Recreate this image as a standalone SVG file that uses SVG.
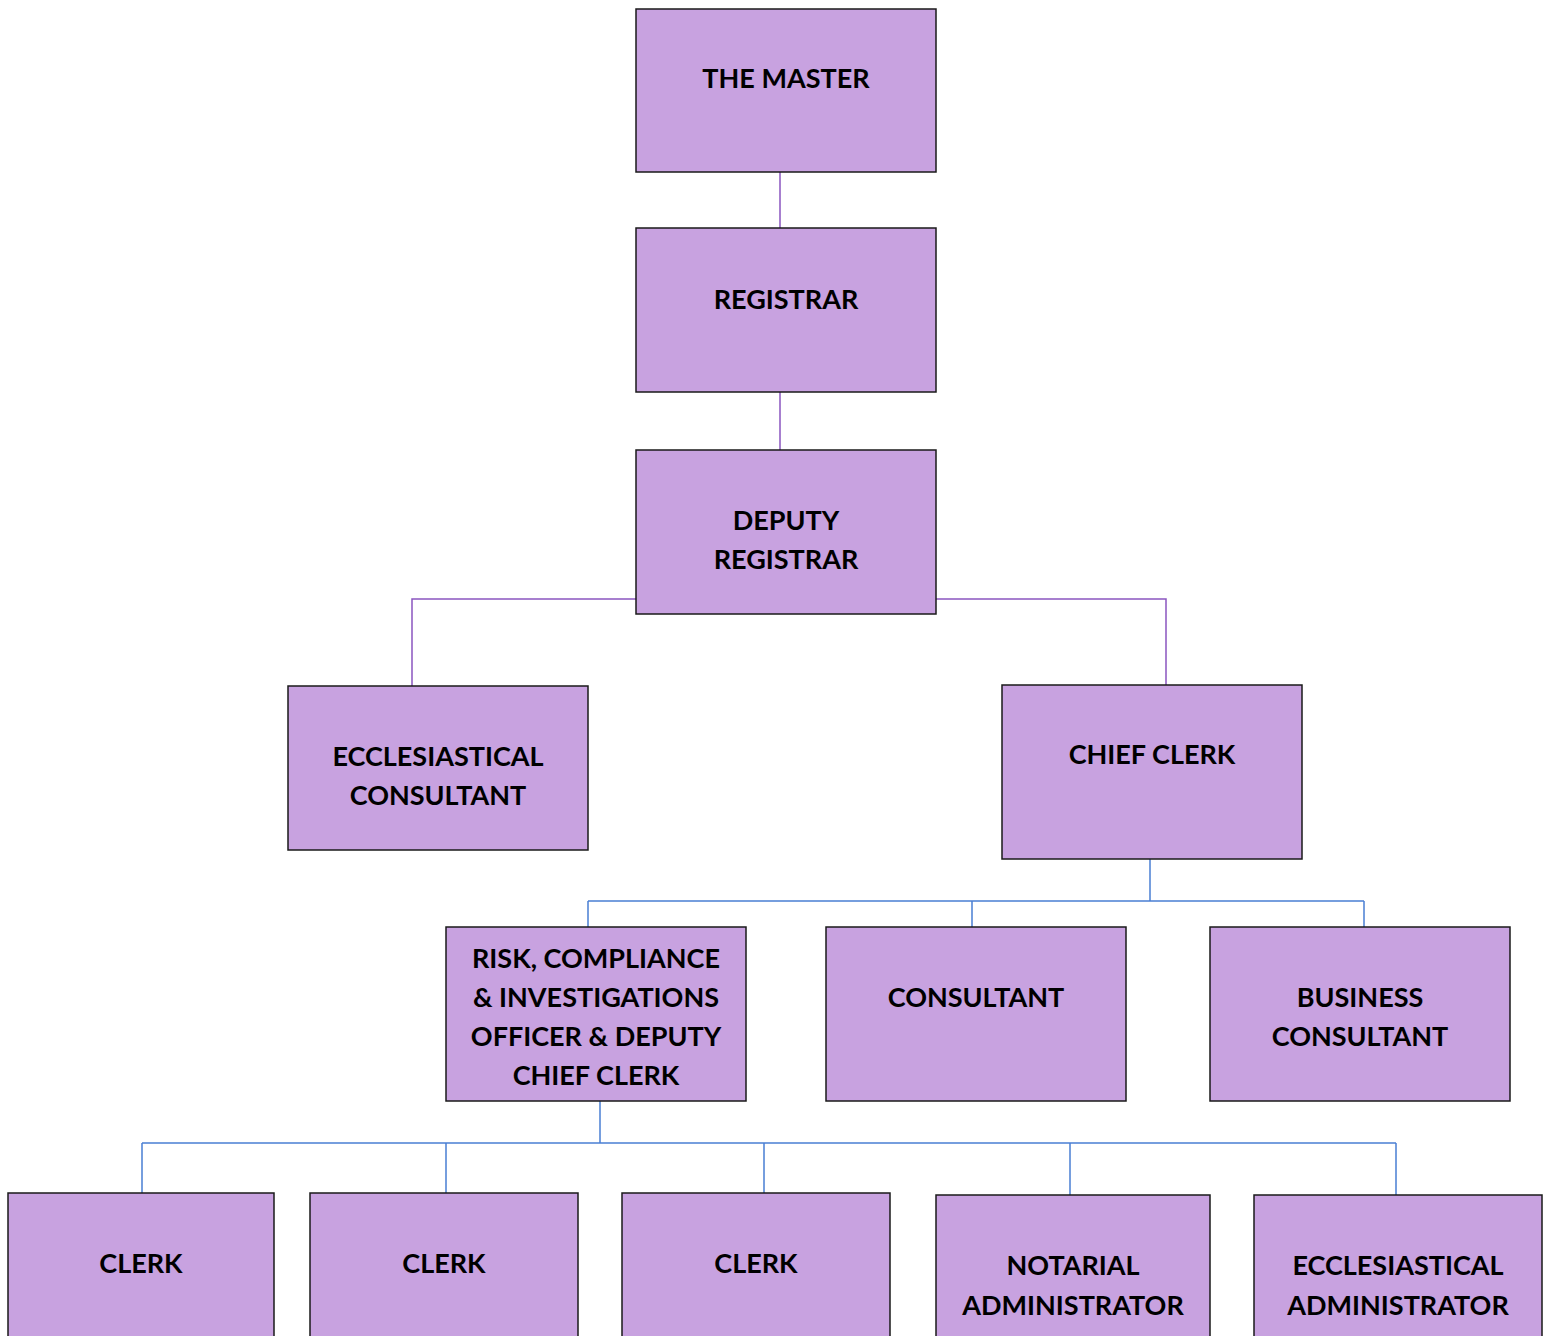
<svg xmlns="http://www.w3.org/2000/svg" width="1543" height="1336" viewBox="0 0 1543 1336">
<style>
.box{fill:#C8A2E0;stroke:#1a1a1a;stroke-width:1.5}
.t{font-family:Lato,"Open Sans","Liberation Sans",sans-serif;font-weight:700;font-size:27px;fill:#000;text-anchor:middle}
.p{stroke:#8A55C0;stroke-width:1.5;fill:none}
.b{stroke:#4A7FD4;stroke-width:1.5;fill:none}
</style>
<rect width="1543" height="1336" fill="#fff"/>
<g id="connectors">
<path class="p" d="M780 172V228M780 392V450M636 599H412V686M936 599H1166V685"/>
<path class="b" d="M1150 859V901M588 901H1364M588 901V927M972 901V927M1364 901V927"/>
<path class="b" d="M600 1101V1143M142 1143H1396M142 1143V1193M446 1143V1193M764 1143V1193M1070 1143V1195M1396 1143V1195"/>
</g>
<g id="master"><rect class="box" x="636" y="9" width="300" height="163"/><text class="t" x="786" y="88">THE MASTER</text></g>
<g id="registrar"><rect class="box" x="636" y="228" width="300" height="164"/><text class="t" x="786" y="309">REGISTRAR</text></g>
<g id="deputy"><rect class="box" x="636" y="450" width="300" height="164"/><text class="t" x="786" y="530">DEPUTY</text><text class="t" x="786" y="569">REGISTRAR</text></g>
<g id="eccl-consultant"><rect class="box" x="288" y="686" width="300" height="164"/><text class="t" x="438" y="766">ECCLESIASTICAL</text><text class="t" x="438" y="805">CONSULTANT</text></g>
<g id="chief-clerk"><rect class="box" x="1002" y="685" width="300" height="174"/><text class="t" x="1152" y="764">CHIEF CLERK</text></g>
<g id="risk"><rect class="box" x="446" y="927" width="300" height="174"/><text class="t" x="596" y="968">RISK, COMPLIANCE</text><text class="t" x="596" y="1007">&amp; INVESTIGATIONS</text><text class="t" x="596" y="1046">OFFICER &amp; DEPUTY</text><text class="t" x="596" y="1085">CHIEF CLERK</text></g>
<g id="consultant"><rect class="box" x="826" y="927" width="300" height="174"/><text class="t" x="976" y="1007">CONSULTANT</text></g>
<g id="business-consultant"><rect class="box" x="1210" y="927" width="300" height="174"/><text class="t" x="1360" y="1007">BUSINESS</text><text class="t" x="1360" y="1046">CONSULTANT</text></g>
<g id="clerk1"><rect class="box" x="8" y="1193" width="266" height="160"/><text class="t" x="141" y="1273">CLERK</text></g>
<g id="clerk2"><rect class="box" x="310" y="1193" width="268" height="160"/><text class="t" x="444" y="1273">CLERK</text></g>
<g id="clerk3"><rect class="box" x="622" y="1193" width="268" height="160"/><text class="t" x="756" y="1273">CLERK</text></g>
<g id="notarial"><rect class="box" x="936" y="1195" width="274" height="160"/><text class="t" x="1073" y="1275">NOTARIAL</text><text class="t" x="1073" y="1315">ADMINISTRATOR</text></g>
<g id="eccl-admin"><rect class="box" x="1254" y="1195" width="288" height="160"/><text class="t" x="1398" y="1275">ECCLESIASTICAL</text><text class="t" x="1398" y="1315">ADMINISTRATOR</text></g>
</svg>
